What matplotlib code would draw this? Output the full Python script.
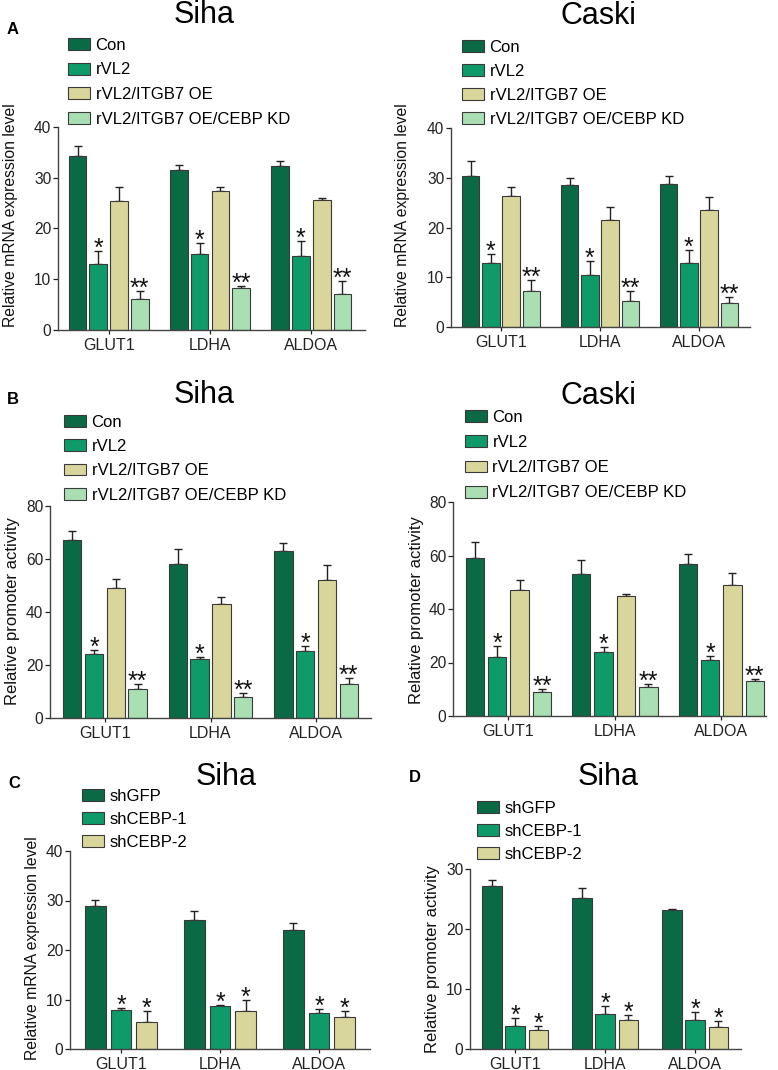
import matplotlib
matplotlib.use('Agg')
import matplotlib.pyplot as plt
import numpy as np

plt.rcParams['font.family'] = ['Liberation Sans', 'DejaVu Sans']

W, H = 778, 1070

genes = ['GLUT1', 'LDHA', 'ALDOA']
groups4 = ['Con', 'rVL2', 'rVL2/ITGB7 OE', 'rVL2/ITGB7 OE/CEBP KD']
groups3 = ['shGFP', 'shCEBP-1', 'shCEBP-2']
marks4 = ['', '*', '', '**']
marks3 = ['', '*', '*']
colors4 = ['#0b6a46', '#0e9b69', '#d8d69b', '#a9dfb2']
colors3 = ['#0b6a46', '#0e9b69', '#d8d69b']

# Panel A, Siha, relative mRNA (rows = groups, cols = genes)
a_siha_means = [[34.3, 31.6, 32.4], [13.0, 15.0, 14.6], [25.4, 27.4, 25.7], [6.1, 8.3, 7.0]]
a_siha_errs = [[2.0, 1.0, 0.9], [2.5, 2.2, 2.9], [2.7, 0.8, 0.4], [1.6, 0.4, 2.7]]
# Panel A, Caski
a_caski_means = [[30.4, 28.5, 28.7], [12.8, 10.5, 12.8], [26.3, 21.6, 23.5], [7.3, 5.3, 4.9]]
a_caski_errs = [[2.9, 1.5, 1.6], [1.8, 2.7, 2.7], [1.8, 2.6, 2.6], [2.2, 2.0, 1.1]]
# Panel B, Siha, promoter activity
b_siha_means = [[67.0, 58.0, 63.0], [24.2, 22.2, 25.2], [49.0, 43.0, 52.0], [11.0, 8.0, 13.0]]
b_siha_errs = [[3.6, 5.6, 3.2], [1.5, 0.8, 2.0], [3.4, 2.5, 5.7], [2.0, 1.5, 2.2]]
# Panel B, Caski
b_caski_means = [[59.0, 53.0, 57.0], [22.0, 24.0, 21.0], [47.0, 45.0, 49.0], [9.0, 11.0, 13.0]]
b_caski_errs = [[6.0, 5.5, 3.7], [4.0, 1.9, 1.5], [4.0, 0.5, 4.6], [1.2, 0.8, 0.8]]
# Panel C, Siha, mRNA after shCEBP
c_means = [[28.9, 26.0, 24.0], [7.9, 8.7, 7.2], [5.4, 7.6, 6.5]]
c_errs = [[1.2, 1.9, 1.4], [0.4, 0.2, 0.8], [2.2, 2.3, 1.2]]
# Panel D, Siha, promoter activity after shCEBP
d_means = [[27.1, 25.1, 23.1], [3.9, 5.8, 4.8], [3.2, 4.9, 3.7]]
d_errs = [[1.0, 1.7, 0.3], [1.2, 1.4, 1.4], [0.6, 0.8, 0.9]]

ylab_mrna = 'Relative mRNA expression level'
ylab_prom = 'Relative promoter activity'

panels = [
    dict(means=a_siha_means, errs=a_siha_errs, box=(58, 365, 127, 330), ymax=40, ystep=10,
         xlim=(-0.5, 2.53), width=0.175, step=0.205, colors=colors4, labels=groups4, marks=marks4,
         ylabel=ylab_mrna, ylsize=11.3, ylab=(11, 215), title='Siha', tpos=(204, 23),
         letter='A', lpos=(7, 34), leg=(68, 45, 0.57)),
    dict(means=a_caski_means, errs=a_caski_errs, box=(451, 750, 128, 327), ymax=40, ystep=10,
         xlim=(-0.505, 2.515), width=0.177, step=0.205, colors=colors4, labels=groups4, marks=marks4,
         ylabel=ylab_mrna, ylsize=11.3, ylab=(403, 215), title='Caski', tpos=(598, 24),
         letter=None, lpos=None, leg=(462, 47, 0.53)),
    dict(means=b_siha_means, errs=b_siha_errs, box=(50, 371, 506, 718), ymax=80, ystep=20,
         xlim=(-0.52, 2.52), width=0.173, step=0.206, colors=colors4, labels=groups4, marks=marks4,
         ylabel=ylab_prom, ylsize=12, ylab=(13, 611), title='Siha', tpos=(204, 403),
         letter='B', lpos=(7, 404), leg=(64, 422, 0.55)),
    dict(means=b_caski_means, errs=b_caski_errs, box=(453, 766, 502, 716), ymax=80, ystep=20,
         xlim=(-0.52, 2.42), width=0.172, step=0.21, colors=colors4, labels=groups4, marks=marks4,
         ylabel=ylab_prom, ylsize=12, ylab=(417, 610), title='Caski', tpos=(598, 404),
         letter=None, lpos=None, leg=(465, 417, 0.61)),
    dict(means=c_means, errs=c_errs, box=(70, 370, 851, 1049), ymax=40, ystep=10,
         xlim=(-0.515, 2.515), width=0.21, step=0.26, colors=colors3, labels=groups3, marks=marks3,
         ylabel=ylab_mrna, ylsize=11.3, ylab=(33, 948), title='Siha', tpos=(226, 785),
         letter='C', lpos=(8, 788), leg=(82, 796, 0.48)),
    dict(means=d_means, errs=d_errs, box=(470, 741, 869, 1049), ymax=30, ystep=10,
         xlim=(-0.5, 2.51), width=0.22, step=0.26, colors=colors3, labels=groups3, marks=marks3,
         ylabel=ylab_prom, ylsize=12, ylab=(433, 959), title='Siha', tpos=(608, 785),
         letter='D', lpos=(409, 782), leg=(477, 808, 0.48)),
]

fig = plt.figure(figsize=(W / 100, H / 100), dpi=100)

for p in panels:
    l, r, t, b = p['box']
    ax = fig.add_axes([l / W, 1 - b / H, (r - l) / W, (b - t) / H])
    n = len(p['means'])
    x = np.arange(len(genes))
    handles = []
    for i in range(n):
        xi = x + (i - (n - 1) / 2) * p['step']
        m = np.array(p['means'][i])
        e = np.array(p['errs'][i])
        ax.errorbar(xi, m, yerr=[np.zeros_like(e), e], fmt='none', ecolor='#222222',
                    elinewidth=1.0, capsize=3, capthick=1.0, zorder=1)
        bars = ax.bar(xi, m, width=p['width'], color=p['colors'][i], edgecolor='#3a3a3a',
                      linewidth=0.8, zorder=2, label=p['labels'][i])
        handles.append(bars)
        if p['marks'][i]:
            for xx, top in zip(xi, m + e):
                ax.annotate(p['marks'][i], xy=(xx, top), xytext=(0, -3.5), textcoords='offset points',
                            ha='center', va='baseline', fontsize=18, color='#111111', zorder=3)
    ax.set_xlim(*p['xlim'])
    ax.set_ylim(0, p['ymax'])
    ax.set_yticks(np.arange(0, p['ymax'] + 1, p['ystep']))
    ax.set_xticks(x)
    ax.set_xticklabels(genes, fontsize=11.5)
    ax.tick_params(axis='y', labelsize=11.2, length=3.6, width=0.9, pad=1.2, colors='#222222')
    ax.tick_params(axis='x', length=3, width=0.9, pad=2.5, colors='#222222')
    for s in ['top', 'right']:
        ax.spines[s].set_visible(False)
    for s in ['left', 'bottom']:
        ax.spines[s].set_linewidth(1.0)
        ax.spines[s].set_color('#444444')
    # y label
    fig.text(p['ylab'][0] / W, 1 - p['ylab'][1] / H, p['ylabel'], rotation=90,
             ha='center', va='center', fontsize=p['ylsize'], color='#111111')
    # title
    fig.text(p['tpos'][0] / W, 1 - p['tpos'][1] / H, p['title'], ha='center', va='baseline',
             fontsize=22, color='black')
    if p['letter']:
        fig.text(p['lpos'][0] / W, 1 - p['lpos'][1] / H, p['letter'], ha='left', va='baseline',
                 fontsize=12, fontweight='bold', color='black')
    lx, ly, lsp = p['leg']
    fs = 12
    top_px = ly - 7
    ax.legend(handles=handles, labels=p['labels'], loc='upper left',
              bbox_to_anchor=(lx / W, 1 - top_px / H), bbox_transform=fig.transFigure,
              frameon=False, fontsize=fs, borderpad=0, borderaxespad=0,
              handlelength=1.3, handleheight=0.72, handletextpad=0.35, labelspacing=lsp)

fig.savefig('out.png', dpi=100)
